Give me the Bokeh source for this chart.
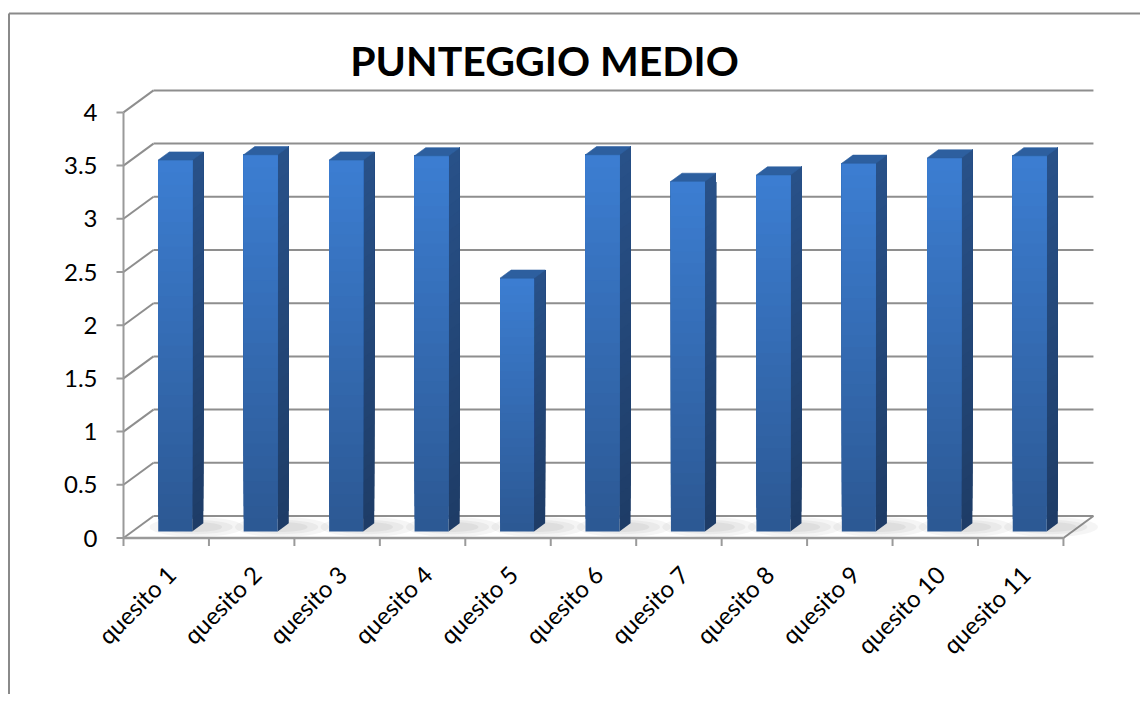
import numpy as np
from bokeh.plotting import figure
from bokeh.models import Range1d
from bokeh.embed import file_html
from bokeh.resources import INLINE
from bokeh.core.properties import value

# ---------------- data ----------------
categories = ["quesito 1", "quesito 2", "quesito 3", "quesito 4", "quesito 5",
              "quesito 6", "quesito 7", "quesito 8", "quesito 9", "quesito 10",
              "quesito 11"]
scores = [3.49, 3.54, 3.49, 3.53, 2.38, 3.54, 3.29, 3.35, 3.46, 3.51, 3.53]
y_ticks = [0, 0.5, 1, 1.5, 2, 2.5, 3, 3.5, 4]
y_tick_labels = ["0", "0.5", "1", "1.5", "2", "2.5", "3", "3.5", "4"]
title_text = "PUNTEGGIO MEDIO"

# ---------------- layout ----------------
W, H = 1140, 694
PX = 85.45          # pixels per category
PY = 106.4          # pixels per value unit
ORX = 123           # canvas x of category boundary 0
ORY = 537.5         # canvas y (from top) of value 0
x0 = -ORX / PX
x1 = x0 + W / PX
y1 = ORY / PY
y0 = y1 - H / PY
DX = 30 / PX        # depth offset of the back wall
DY = 22 / PY
F0 = 0.30           # bar front depth fraction
BD = 0.37           # bar depth fraction
BW = 34 / PX        # bar width
ncat = len(categories)
vmax = y_ticks[-1]

p = figure(width=W, height=H, x_range=Range1d(x0, x1), y_range=Range1d(y0, y1),
           output_backend="svg", toolbar_location=None, min_border=0,
           x_axis_location=None, y_axis_location=None, outline_line_color=None)
p.grid.visible = False
p.background_fill_color = "white"

GRID = "#8e8e8e"
AX = "#9a9a9a"

# chart area border (top and left visible)
top_y = y1 - 13 / PY
left_x = x0 + 8.5 / PX
p.segment(x0=[left_x, left_x], y0=[top_y, top_y], x1=[x1, left_x], y1=[top_y, y0],
          line_color="#8a8a8a", line_width=2)

# back wall gridlines and left wall diagonals
p.segment(x0=[DX] * len(y_ticks), y0=[t + DY for t in y_ticks],
          x1=[ncat + DX] * len(y_ticks), y1=[t + DY for t in y_ticks],
          line_color=GRID, line_width=2)
p.segment(x0=[0] * len(y_ticks), y0=y_ticks,
          x1=[DX] * len(y_ticks), y1=[t + DY for t in y_ticks],
          line_color=GRID, line_width=2)
# floor right edge
p.segment(x0=[ncat], y0=[0], x1=[ncat + DX], y1=[DY], line_color=GRID, line_width=2)

# shadows on floor
for i in range(ncat):
    cx = i + 0.5 + F0 * DX + BW / 2 + 0.05
    for w, h, a in [(1.1, DY * 0.9, 0.07), (0.85, DY * 0.65, 0.08), (0.6, DY * 0.45, 0.09)]:
        p.ellipse(x=[cx], y=[DY * 0.5], width=w, height=h, fill_color="#707070",
                  fill_alpha=a, line_color=None)

# front floor edge and axis
p.segment(x0=[0], y0=[0], x1=[ncat], y1=[0], line_color=AX, line_width=2.5)
p.segment(x0=[0], y0=[0], x1=[0], y1=[vmax], line_color=AX, line_width=2)
# y ticks
p.segment(x0=[-7 / PX] * len(y_ticks), y0=y_ticks, x1=[0] * len(y_ticks), y1=y_ticks,
          line_color=AX, line_width=2)
# x ticks (category boundaries)
p.segment(x0=list(range(ncat + 1)), y0=[0] * (ncat + 1), x1=list(range(ncat + 1)),
          y1=[-8 / PY] * (ncat + 1), line_color=AX, line_width=2)


def mix(c1, c2, t):
    a = [int(c1[k:k + 2], 16) for k in (1, 3, 5)]
    b = [int(c2[k:k + 2], 16) for k in (1, 3, 5)]
    return "#%02x%02x%02x" % tuple(int(round(a[j] + (b[j] - a[j]) * t)) for j in range(3))


FRONT_BOT, FRONT_TOP = "#2c5893", "#3c7ed2"
SIDE_BOT, SIDE_TOP = "#1e3c66", "#285189"
TOP_C = "#2d5f9f"
N = 30

fx0, fx1, fy0, fy1, fcol = [], [], [], [], []
sxs, sys, scol = [], [], []
txs, tys = [], []
for k in range(N):
    t = (k + 0.5) / N
    for i, v in enumerate(scores):
        xl = i + 0.5 - BW / 2 + F0 * DX
        xr = xl + BW
        yb = F0 * DY
        yt = yb + v
        ddx, ddy = BD * DX, BD * DY
        ya = yb + v * k / N
        # each band reaches to the top; later bands cover the upper part -> no seams
        fx0.append(xl); fx1.append(xr); fy0.append(ya); fy1.append(yt)
        fcol.append(mix(FRONT_BOT, FRONT_TOP, t))
        sxs.append([xr, xr + ddx, xr + ddx, xr])
        sys.append([ya, ya + ddy, yt + ddy, yt])
        scol.append(mix(SIDE_BOT, SIDE_TOP, t))
        if k == 0:
            txs.append([xl, xr, xr + ddx, xl + ddx])
            tys.append([yt, yt, yt + ddy, yt + ddy])

p.patches(xs=sxs, ys=sys, fill_color=scol, line_color=None)
p.quad(left=fx0, right=fx1, bottom=fy0, top=fy1, fill_color=fcol, line_color=None)
p.patches(xs=txs, ys=tys, fill_color=TOP_C, line_color=TOP_C, line_width=0.6)

# labels
p.text(x=[-26 / PX] * len(y_ticks), y=y_ticks, text=y_tick_labels,
       text_align="right", text_baseline="middle", text_font=value("Lato"),
       text_font_size="24px", text_color="#000000")

p.text(x=[i + 0.5 + 5 / PX for i in range(ncat)], y=[-32 / PY] * ncat, text=categories,
       angle=np.pi / 4, text_align="right", text_baseline="middle",
       text_font=value("Lato"), text_font_size="24px", text_color="#000000")

p.text(x=[(544 - 123) / PX], y=[(537.5 - 60) / PY], text=[title_text],
       text_align="center", text_baseline="alphabetic", text_font=value("Lato"),
       text_font_style="bold", text_font_size="41px", text_color="#000000")

open("out.html", "w").write(file_html(p, INLINE))
